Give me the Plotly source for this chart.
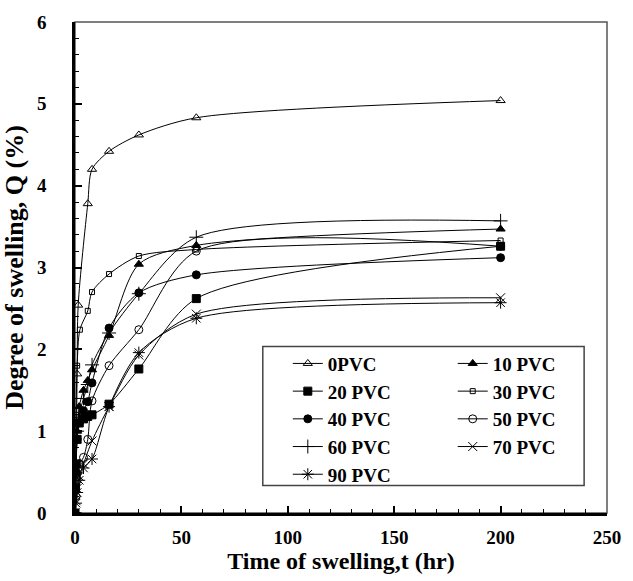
import plotly.graph_objects as go

# ---- data ----
names = ["0PVC", "10 PVC", "20 PVC", "30 PVC", "40 PVC", "50 PVC", "60 PVC", "70 PVC", "90 PVC"]

t_0 = [0, 0.5, 1, 1.5, 6, 8, 16, 30, 57, 200]
q_0 = [0, 0.6, 1.7, 2.54, 3.78, 4.20, 4.42, 4.62, 4.83, 5.04]

t_10 = [0, 0.5, 1, 2, 4, 6, 8, 16, 30, 57, 200]
q_10 = [0, 0.5, 1.0, 1.3, 1.5, 1.62, 1.75, 2.17, 3.04, 3.27, 3.47]

t_20 = [0, 0.25, 0.5, 1, 2, 4, 6, 8, 16, 30, 57, 200]
q_20 = [0, 0.3, 0.6, 0.9, 1.1, 1.15, 1.18, 1.2, 1.33, 1.76, 2.62, 3.26]

t_30 = [0, 0.5, 1, 2.3, 6, 8, 16, 30, 57, 200]
q_30 = [0, 1.2, 1.8, 2.24, 2.47, 2.70, 2.92, 3.14, 3.22, 3.33]

t_40 = [0, 0.5, 1, 2, 4, 6, 8, 16, 30, 57, 200]
q_40 = [0, 0.5, 0.9, 1.1, 1.25, 1.36, 1.59, 2.26, 2.69, 2.91, 3.12]

t_50 = [0, 0.5, 1, 2, 4, 6, 8, 16, 30, 57, 200]
q_50 = [0, 0.2, 0.4, 0.6, 0.68, 0.9, 1.37, 1.80, 2.24, 3.20, 3.26]

t_60 = [0, 0.5, 1, 2, 4, 6, 8, 16, 30, 57, 200]
q_60 = [0, 0.6, 1.0, 1.2, 1.4, 1.57, 1.81, 2.2, 2.68, 3.37, 3.57]

t_70 = [0, 0.5, 1, 2, 4, 8, 16, 30, 57, 200]
q_70 = [0, 0.15, 0.3, 0.45, 0.6, 0.88, 1.3, 1.93, 2.43, 2.63]

t_90 = [0, 0.5, 1, 2, 4, 8, 16, 30, 57, 200]
q_90 = [0, 0.12, 0.25, 0.4, 0.55, 0.66, 1.3, 1.96, 2.38, 2.57]

times = [t_0, t_10, t_20, t_30, t_40, t_50, t_60, t_70, t_90]
values = [q_0, q_10, q_20, q_30, q_40, q_50, q_60, q_70, q_90]

symbols = ["triangle-up-open", "triangle-up", "square", "square-open", "circle",
           "circle-open", "cross-thin-open", "x-thin-open", "asterisk-open"]
sizes = [8, 8, 8, 5, 8, 8, 10, 9, 10]
legend_ids = ["legend", "legend2", "legend", "legend2", "legend", "legend2", "legend", "legend2", "legend"]

FONT = "Liberation Serif"

fig = go.Figure()
for n, t, q, s, sz, lg in zip(names, times, values, symbols, sizes, legend_ids):
    fig.add_trace(go.Scatter(
        x=t, y=q, name=n, mode="lines+markers",
        line=dict(color="black", width=1, shape="spline", smoothing=0.8),
        marker=dict(symbol=s, size=sz, color="black",
                    line=dict(color="black", width=1)),
        legend=lg,
    ))

axis_common = dict(
    showgrid=False, zeroline=False, showline=True, linecolor="black", linewidth=2.5,
    ticks="inside", ticklen=7, tickwidth=1.5, tickcolor="black",
    tickfont=dict(family=FONT, size=19, color="black", weight="bold"),
)

fig.update_xaxes(
    range=[0, 250], dtick=50, tick0=0,
    minor=dict(ticks="inside", ticklen=4, dtick=10, tickcolor="black", tickwidth=1.2),
    ticklabelstandoff=5,
    title=dict(text="<b>Time of swelling,t (hr)</b>", font=dict(family=FONT, size=24, color="black"),
               standoff=5),
    **axis_common,
)
fig.update_yaxes(
    range=[0, 6], dtick=1, tick0=0,
    minor=dict(ticks="inside", ticklen=4, dtick=0.2, tickcolor="black", tickwidth=1.2),
    ticklabelstandoff=22,
    title=dict(text="<b>Degree of swelling, Q (%)</b>", font=dict(family=FONT, size=26, color="black"),
               standoff=7),
    **axis_common,
)

leg_font = dict(family=FONT, size=19, color="black", weight="bold")
fig.update_layout(
    width=633, height=581,
    margin=dict(l=74, r=18, t=17, b=68),
    plot_bgcolor="white", paper_bgcolor="white",
    legend=dict(x=0.40, y=0.343, xanchor="left", yanchor="top", font=leg_font,
                bgcolor="rgba(0,0,0,0)", borderwidth=0, itemwidth=30, tracegroupgap=0),
    legend2=dict(x=0.71, y=0.343, xanchor="left", yanchor="top", font=leg_font,
                 bgcolor="rgba(0,0,0,0)", borderwidth=0, itemwidth=30, tracegroupgap=0),
    shapes=[
        dict(type="rect", xref="paper", yref="paper", x0=0, y0=0, x1=1, y1=1,
             line=dict(color="#555555", width=1.5), layer="below"),
        dict(type="rect", xref="paper", yref="paper", x0=0.353, y0=0.056, x1=0.957, y1=0.339,
             line=dict(color="#444444", width=1.5), fillcolor="white", layer="below"),
    ],
)

fig.write_html("out.html")
